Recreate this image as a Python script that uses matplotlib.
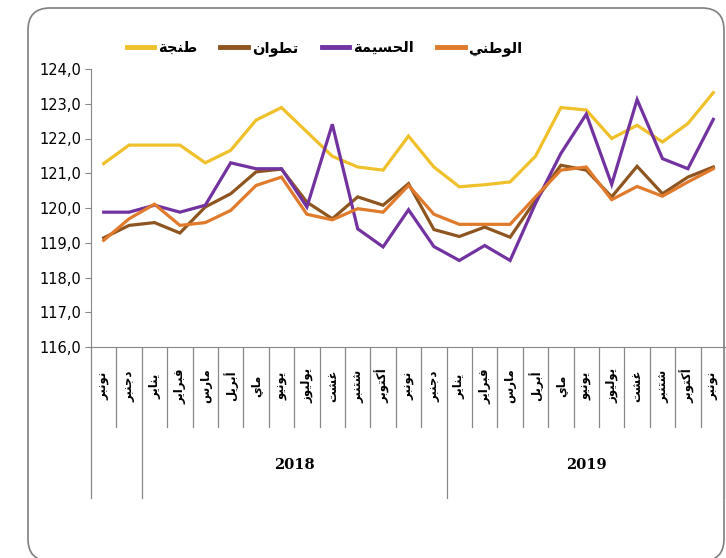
import matplotlib
matplotlib.use("Agg")
import matplotlib.pyplot as plt
import matplotlib.transforms as mtransforms
from matplotlib.patches import FancyBboxPatch

# Categories: Nov/Dec 2017, all 2018, Jan-Nov 2019
months_2017 = ["نونبر", "دجنبر"]
months_2018 = ["يناير", "فبراير", "مارس", "أبريل", "ماي", "يونيو",
               "يوليوز", "غشت", "شتنبر", "أكتوبر", "نونبر", "دجنبر"]
months_2019 = ["يناير", "فبراير", "مارس", "أبريل", "ماي", "يونيو",
               "يوليوز", "غشت", "شتنبر", "أكتوبر", "نونبر"]
years = ["2018", "2019"]

tanger = [121.28, 121.81, 121.81, 121.81, 121.30, 121.66, 122.53, 122.89,
          122.19, 121.49, 121.18, 121.09, 122.07, 121.18, 120.61, 120.67,
          120.75, 121.49, 122.89, 122.82, 122.00, 122.38, 121.90, 122.43, 123.32]
tetouan = [119.14, 119.50, 119.58, 119.28, 120.03, 120.41, 121.04, 121.12,
           120.17, 119.69, 120.32, 120.08, 120.70, 119.38, 119.18, 119.45,
           119.16, 120.22, 121.23, 121.09, 120.32, 121.20, 120.41, 120.89, 121.18]
hoceima = [119.88, 119.88, 120.08, 119.88, 120.08, 121.30, 121.13, 121.13,
           120.03, 122.41, 119.40, 118.88, 119.95, 118.89, 118.49, 118.92,
           118.49, 120.13, 121.57, 122.70, 120.68, 123.12, 121.42, 121.13, 122.55]
national = [119.07, 119.69, 120.11, 119.50, 119.58, 119.93, 120.65, 120.89,
            119.82, 119.66, 119.98, 119.88, 120.65, 119.82, 119.53, 119.53,
            119.53, 120.32, 121.09, 121.18, 120.24, 120.62, 120.34, 120.75, 121.13]

series_names = ["طنجة", "تطوان", "الحسيمة", "الوطني"]

# Arabic presentation forms: isolated, final, initial, medial
FORMS = {
    'ا': (0xFE8D, 0xFE8E, None, None), 'أ': (0xFE83, 0xFE84, None, None),
    'ب': (0xFE8F, 0xFE90, 0xFE91, 0xFE92), 'ة': (0xFE93, 0xFE94, None, None),
    'ت': (0xFE95, 0xFE96, 0xFE97, 0xFE98), 'ج': (0xFE9D, 0xFE9E, 0xFE9F, 0xFEA0),
    'ح': (0xFEA1, 0xFEA2, 0xFEA3, 0xFEA4), 'د': (0xFEA9, 0xFEAA, None, None),
    'ر': (0xFEAD, 0xFEAE, None, None), 'ز': (0xFEAF, 0xFEB0, None, None),
    'س': (0xFEB1, 0xFEB2, 0xFEB3, 0xFEB4), 'ش': (0xFEB5, 0xFEB6, 0xFEB7, 0xFEB8),
    'ط': (0xFEC1, 0xFEC2, 0xFEC3, 0xFEC4), 'غ': (0xFECD, 0xFECE, 0xFECF, 0xFED0),
    'ف': (0xFED1, 0xFED2, 0xFED3, 0xFED4), 'ك': (0xFED9, 0xFEDA, 0xFEDB, 0xFEDC),
    'ل': (0xFEDD, 0xFEDE, 0xFEDF, 0xFEE0), 'م': (0xFEE1, 0xFEE2, 0xFEE3, 0xFEE4),
    'ن': (0xFEE5, 0xFEE6, 0xFEE7, 0xFEE8), 'و': (0xFEED, 0xFEEE, None, None),
    'ي': (0xFEF1, 0xFEF2, 0xFEF3, 0xFEF4),
}


def dual(c):
    return c in FORMS and FORMS[c][2] is not None


def shape(word):
    '''Join Arabic letters and reverse to visual order (no shaping in mpl)'''
    out = []
    for i, c in enumerate(word):
        if c not in FORMS:
            out.append(c)
            continue
        prev_join = i > 0 and dual(word[i - 1])
        next_join = dual(c) and i + 1 < len(word) and word[i + 1] in FORMS
        iso, fin, ini, med = FORMS[c]
        if prev_join and next_join:
            code = med
        elif prev_join:
            code = fin
        elif next_join:
            code = ini
        else:
            code = iso
        out.append(chr(code))
    return "".join(out[::-1])


labels = months_2017 + months_2018 + months_2019
x = list(range(len(labels)))

fig = plt.figure(figsize=(7.26, 5.58), dpi=100)
ax = fig.add_axes([91 / 726, (558 - 347) / 558, 635 / 726, 278 / 558])

colors = ["#F0C02A", "#8E5520", "#7232A0", "#E07A2C"]
for vals, col, name in zip([tanger, tetouan, hoceima, national], colors, series_names):
    ax.plot(x, vals, color=col, lw=2.3, label=shape(name), solid_joinstyle="miter")

ax.set_xlim(-0.5, len(labels) - 0.5)
ax.set_ylim(116, 124)
ax.set_yticks(range(116, 125))
ax.set_yticklabels([f"{v},0" for v in range(116, 125)],
                   family=["Liberation Sans Narrow", "DejaVu Sans"], fontsize=10.5)
ax.tick_params(axis="y", length=4, color="#888888", pad=3)
ax.set_xticks([])
for s in ["top", "right"]:
    ax.spines[s].set_visible(False)
ax.spines["left"].set_color("#888888")
ax.spines["bottom"].set_color("#888888")

# multi-level category axis
trans = mtransforms.blended_transform_factory(ax.transData, ax.transAxes)
short_end = -(427 - 347) / 278
long_end = -(498 - 347) / 278
bounds = [i - 0.5 for i in range(len(labels) + 1)]
group_edges = [-0.5, 1.5, 13.5, 24.5]
for b in bounds:
    end = long_end if b in group_edges else short_end
    ax.plot([b, b], [0, end], color="#888888", lw=0.9, transform=trans, clip_on=False)

for i, lab in enumerate(labels):
    ax.text(i, -0.14, shape(lab), transform=trans, rotation=90,
            ha="center", va="center", fontsize=8.5, fontweight="bold",
            family="DejaVu Sans")

ax.text(7.5, -0.425, years[0], transform=trans, ha="center", va="center",
        fontsize=10.5, fontweight="bold", family="DejaVu Serif")
ax.text(19, -0.425, years[1], transform=trans, ha="center", va="center",
        fontsize=10.5, fontweight="bold", family="DejaVu Serif")

leg = ax.legend(loc="center left", bbox_to_anchor=(0.056, 1.075), ncol=4,
                frameon=False, handlelength=1.9, columnspacing=1.6,
                handletextpad=0.25, borderpad=0, borderaxespad=0,
                prop={"family": "DejaVu Sans", "size": 10.5, "weight": "bold"})
for h in leg.get_lines():
    h.set_linewidth(3.5)

border = FancyBboxPatch((28, -3), 696, 553, boxstyle="round,pad=0,rounding_size=22",
                        transform=None, facecolor="none", edgecolor="#7f7f7f", lw=1.2)
fig.patches.append(border)

fig.savefig("out.png", dpi=100)
